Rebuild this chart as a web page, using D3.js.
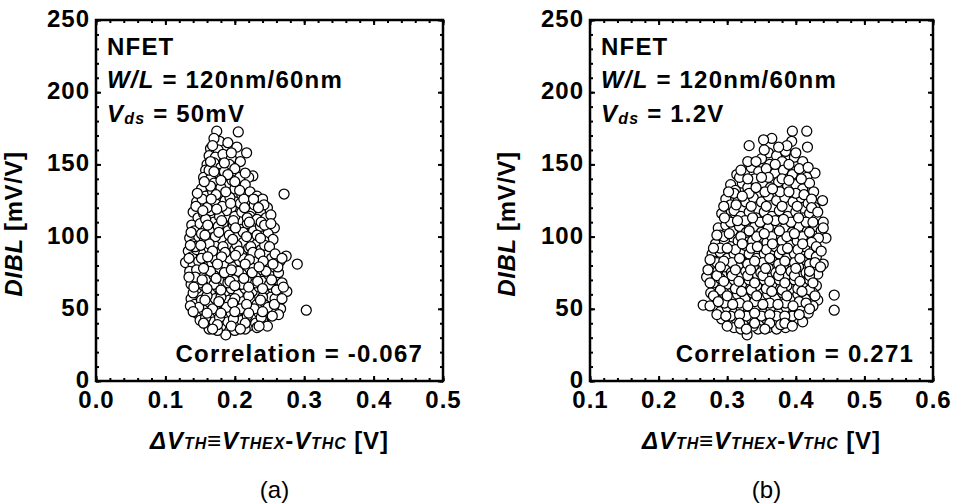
<!DOCTYPE html>
<html>
<head>
<meta charset="utf-8">
<script src="https://cdn.jsdelivr.net/npm/d3@7"></script>
<style>
  body { margin: 0; background: #fff; }
  svg { display: block; font-family: "Liberation Sans", Arial, sans-serif; }
</style>
</head>
<body>
<div id="chart"></div>
<script>
// ---------------------------------------------------------------------------
// data  [dVth (V), DIBL (mV/V)]
// ---------------------------------------------------------------------------
const pointsA = [
  [0.174,173],[0.205,172.5],[0.178,166],[0.17,168],[0.19,165],[0.203,162],[0.165,161],[0.176,160],
  [0.217,158],[0.163,156],[0.172,155],[0.183,157],[0.195,154],[0.208,152],
  [0.16,150],[0.17,151],[0.18,148],[0.192,150],[0.2,147],[0.158,146],[0.175,144],
  [0.226,142],[0.22,141],[0.155,141],[0.165,140],[0.185,142],[0.196,139],[0.207,141],[0.215,136],[0.17,137],[0.16,134],
  [0.152,133],[0.158,128],[0.168,131],[0.18,134],[0.19,130],[0.2,133],[0.21,129],[0.222,131],[0.232,128],[0.176,127],[0.186,125],[0.2,124],
  [0.271,129.5],[0.145,124],[0.15,120],[0.162,122],[0.172,123],[0.195,120],[0.208,123],[0.218,125],[0.228,122],[0.24,126],[0.247,120],[0.237,117],
  [0.14,117],[0.147,113],[0.155,116],[0.165,118],[0.178,115],[0.188,118],[0.2,114],[0.21,117],[0.222,114],[0.232,112],[0.245,113],[0.252,115],[0.17,110],[0.183,109],
  [0.138,108],[0.142,104],[0.15,109],[0.158,105],[0.168,103],[0.176,107],[0.19,104],[0.198,108],[0.208,105],[0.218,109],[0.227,104],[0.237,107],[0.257,106],[0.248,102],[0.255,98],
  [0.135,99],[0.14,95],[0.148,100],[0.156,97],[0.165,99],[0.172,94],[0.182,98],[0.192,95],[0.203,100],[0.212,96],[0.222,99],[0.232,95],[0.242,97],[0.238,91],
  [0.133,90],[0.138,86],[0.145,91],[0.155,88],[0.163,92],[0.172,87],[0.18,90],[0.19,86],[0.2,91],[0.21,88],[0.22,92],[0.228,86],[0.245,88],[0.253,85],
  [0.129,82],[0.29,81],[0.274,86.5],[0.265,83],[0.14,80],[0.148,83],[0.157,79],[0.167,82],[0.177,78],[0.187,81],[0.197,79],[0.207,83],[0.217,78],[0.227,80],[0.237,77],[0.247,80],[0.258,78],[0.135,76],
  [0.14,72],[0.15,74],[0.16,70],[0.17,73],[0.18,69],[0.19,72],[0.2,70],[0.21,74],[0.22,70],[0.23,72],[0.24,69],[0.25,73],[0.26,70],[0.263,75],[0.137,67],
  [0.145,64],[0.155,66],[0.165,62],[0.175,65],[0.185,61],[0.195,64],[0.205,60],[0.215,64],[0.225,62],[0.235,65],[0.245,61],[0.255,64],[0.267,60],[0.275,62],
  [0.137,57],[0.142,53],[0.152,56],[0.162,53],[0.172,57],[0.182,54],[0.192,56],[0.202,52],[0.212,55],[0.222,57],[0.232,53],[0.242,55],[0.252,58],[0.262,54],[0.266,50],
  [0.303,49],[0.145,47],[0.155,49],[0.165,45],[0.175,48],[0.185,44],[0.195,47],[0.205,45],[0.215,48],[0.225,44],[0.235,47],[0.245,45],[0.257,48],[0.263,46],
  [0.15,42],[0.16,39],[0.17,41],[0.18,38],[0.19,41],[0.2,39],[0.21,42],[0.22,38],[0.23,40],[0.24,42],[0.247,38],
  [0.187,32],[0.163,36],[0.175,35],[0.2,35],[0.215,36],[0.232,37],
  [0.153,126],[0.173,129],[0.193,127],[0.213,126],[0.158,112],[0.178,114],[0.198,111],[0.218,113],[0.238,110],
  [0.152,102],[0.172,100],[0.192,101],[0.212,103],[0.232,101],[0.143,93],[0.163,95],[0.183,93],[0.203,94],[0.223,93],[0.243,94],
  [0.152,85],[0.172,84],[0.192,85],[0.212,85],[0.232,84],[0.145,77],[0.165,76],[0.185,75],[0.205,76],[0.225,75],[0.245,76],
  [0.15,68],[0.17,67],[0.19,68],[0.21,67],[0.23,68],[0.25,67],[0.14,61],[0.16,59],[0.18,58],[0.2,57],[0.22,59],[0.24,58],[0.258,57],
  [0.148,51],[0.168,50],[0.188,51],[0.208,50],[0.228,50],[0.248,51],[0.158,44],[0.178,44],[0.198,43],[0.218,45],[0.238,44],
  [0.16,120],[0.182,121],[0.163,146],[0.185,145],[0.165,152],
  [0.146,130],[0.166,126],[0.187,131],[0.207,132],[0.227,126],[0.242,122],
  [0.144,121],[0.154,118],[0.174,119],[0.194,123],[0.214,120],[0.234,120],
  [0.161,108],[0.181,111],[0.201,106],[0.221,110],[0.243,108],[0.252,109],
  [0.137,103],[0.157,101],[0.177,103],[0.197,98],[0.217,100],[0.237,99],[0.25,93],
  [0.136,94],[0.151,94],[0.168,90],[0.186,89],[0.206,90],[0.226,89],[0.236,88],[0.258,88],
  [0.134,85],[0.161,86],[0.181,86],[0.201,87],[0.221,84],[0.241,83],[0.262,79],[0.268,85],
  [0.143,72],[0.155,78],[0.175,81],[0.195,77],[0.215,81],[0.235,79],[0.255,81],
  [0.134,72],[0.153,70],[0.173,71],[0.193,69],[0.213,71],[0.233,69],[0.253,70],[0.268,68],
  [0.141,65],[0.16,64],[0.18,63],[0.2,66],[0.22,65],[0.24,64],[0.26,63],[0.27,65],
  [0.136,52],[0.157,56],[0.177,55],[0.197,54],[0.217,53],[0.237,56],[0.257,53],[0.268,57],
  [0.14,48],[0.16,47],[0.18,47],[0.2,48],[0.22,47],[0.24,48],[0.254,45],
  [0.155,40],[0.175,39],[0.195,38],[0.215,40],[0.235,38],[0.168,36],[0.208,36],
  [0.17,145],[0.19,143],[0.2,138],[0.18,139],[0.165,135],[0.215,144],[0.156,138],[0.195,158],[0.185,151],[0.168,163]
];

const pointsB = [
  [0.365,168],[0.353,167],[0.395,173],[0.416,173],[0.394,166],[0.417,162],[0.332,163],
  [0.36,158],[0.372,156],[0.385,159],[0.398,155],[0.41,152],[0.38,152],[0.35,154],[0.362,150],
  [0.325,144],[0.314,143],[0.428,144],[0.335,148],[0.346,145],[0.357,147],[0.37,144],[0.382,146],[0.395,143],[0.405,147],[0.416,141],[0.34,140],
  [0.305,136],[0.312,132],[0.322,137],[0.33,134],[0.352,137],[0.363,134],[0.375,138],[0.388,135],[0.4,136],[0.41,133],[0.42,137],[0.426,131],[0.345,130],
  [0.298,126],[0.305,122],[0.316,127],[0.327,124],[0.338,127],[0.35,124],[0.36,128],[0.372,125],[0.384,127],[0.396,124],[0.408,127],[0.418,123],[0.439,125],[0.428,120],
  [0.292,116],[0.3,112],[0.31,118],[0.32,114],[0.332,117],[0.342,113],[0.354,117],[0.365,114],[0.376,118],[0.388,114],[0.4,117],[0.41,113],[0.42,116],[0.43,112],
  [0.287,106],[0.29,101],[0.298,108],[0.308,104],[0.318,107],[0.328,103],[0.34,107],[0.35,103],[0.36,106],[0.372,102],[0.384,106],[0.395,103],[0.405,107],[0.417,104],[0.428,107],[0.437,104],[0.444,99],[0.433,99],
  [0.283,95],[0.296,97],[0.305,93],[0.316,97],[0.326,94],[0.337,97],[0.347,93],[0.358,96],[0.37,93],[0.38,97],[0.392,94],[0.402,97],[0.413,93],[0.423,96],
  [0.278,88],[0.28,83],[0.29,89],[0.3,85],[0.31,88],[0.32,84],[0.332,88],[0.343,85],[0.354,88],[0.365,84],[0.376,88],[0.387,85],[0.398,88],[0.41,84],[0.42,88],[0.43,86],
  [0.44,81],[0.276,78],[0.286,76],[0.296,79],[0.306,75],[0.316,79],[0.327,76],[0.338,79],[0.349,75],[0.36,78],[0.371,75],[0.382,79],[0.393,76],[0.404,79],[0.415,75],[0.426,78],[0.432,74],
  [0.27,72],[0.28,68],[0.29,71],[0.3,67],[0.31,70],[0.321,67],[0.332,70],[0.343,66],[0.354,70],[0.365,67],[0.376,70],[0.387,66],[0.398,70],[0.41,67],[0.42,70],[0.43,66],
  [0.456,59.5],[0.276,61],[0.285,58],[0.295,61],[0.305,57],[0.315,60],[0.326,57],[0.337,61],[0.348,57],[0.359,60],[0.37,57],[0.381,61],[0.392,57],[0.403,60],[0.414,57],[0.425,61],[0.432,56],
  [0.456,49],[0.265,52.6],[0.282,52],[0.29,48],[0.3,51],[0.31,47],[0.32,51],[0.331,48],[0.342,51],[0.353,47],[0.364,50],[0.375,47],[0.386,51],[0.397,48],[0.408,51],[0.418,47],[0.425,52],
  [0.292,43],[0.303,40],[0.313,43],[0.323,40],[0.335,43],[0.346,40],[0.357,43],[0.368,40],[0.379,43],[0.39,40],[0.4,43],[0.41,41],
  [0.329,32],[0.31,37],[0.32,36],[0.345,36],[0.36,37],[0.372,36],[0.385,37],
  [0.33,152],[0.39,150],[0.318,141],[0.36,141],[0.38,140],[0.31,130],[0.332,130],[0.355,131],[0.377,131],[0.4,130],
  [0.305,110],[0.326,111],[0.348,110],[0.37,111],[0.393,110],[0.415,110],[0.295,100],[0.32,100],[0.343,100],[0.365,100],[0.387,100],[0.41,100],
  [0.29,92],[0.312,91],[0.335,92],[0.357,91],[0.38,91],[0.403,91],[0.285,82],[0.307,82],[0.33,81],[0.352,82],[0.375,81],[0.398,82],[0.42,81],
  [0.285,73],[0.307,73],[0.33,73],[0.352,73],[0.375,73],[0.398,73],[0.42,73],[0.29,63],[0.312,64],[0.335,63],[0.357,64],[0.38,63],[0.403,64],[0.42,63],
  [0.296,54],[0.318,54],[0.34,55],[0.362,54],[0.385,54],[0.405,55],[0.305,45],[0.328,45],[0.35,45],[0.372,45],[0.395,45],[0.338,38],[0.378,39],
  [0.342,152],[0.37,150],[0.354,160],[0.387,163],[0.4,158],[0.375,162],
  [0.33,140],[0.35,141],[0.39,139],[0.408,140],[0.32,146],[0.418,148],
  [0.302,131],[0.322,128],[0.342,134],[0.366,133],[0.39,131],[0.412,129],[0.423,126],
  [0.295,121],[0.313,122],[0.335,121],[0.357,121],[0.38,121],[0.402,121],[0.423,120],[0.432,117],
  [0.296,113],[0.315,111],[0.337,113],[0.359,112],[0.382,112],[0.404,113],[0.425,110],[0.44,110],
  [0.285,101],[0.303,102],[0.332,104],[0.354,102],[0.376,104],[0.398,102],[0.42,103],[0.44,106],
  [0.28,92],[0.3,92],[0.322,95],[0.344,93],[0.366,95],[0.388,92],[0.41,95],[0.43,93],[0.437,90],
  [0.275,84],[0.295,83],[0.318,85],[0.34,83],[0.362,85],[0.384,83],[0.406,85],[0.428,82],
  [0.272,77],[0.29,79],[0.312,77],[0.334,77],[0.356,78],[0.378,77],[0.4,78],[0.42,76],[0.436,79],
  [0.275,68],[0.295,69],[0.317,69],[0.34,68],[0.362,69],[0.384,68],[0.406,69],[0.425,68],
  [0.28,59],[0.3,59],[0.321,62],[0.343,59],[0.365,62],[0.387,59],[0.409,62],[0.428,59],
  [0.275,52],[0.287,55],[0.308,53],[0.33,52],[0.352,53],[0.374,53],[0.396,52],[0.415,54],
  [0.285,46],[0.298,45],[0.318,46],[0.34,47],[0.362,46],[0.384,45],[0.405,46],[0.42,50],
  [0.3,38],[0.318,40],[0.34,40],[0.362,40],[0.384,40],[0.355,36],[0.395,38],[0.328,36]
];

// axis ticks
const yTicks = [0, 50, 100, 150, 200, 250];
const xTicksA = [0.0, 0.1, 0.2, 0.3, 0.4, 0.5];
const xTicksB = [0.1, 0.2, 0.3, 0.4, 0.5, 0.6];

const W = 953, H = 504;
const svg = d3.select("#chart").append("svg").attr("width", W).attr("height", H);

//------------------------------------------------------------------------------
function drawPanel(p) {
  const pw = p.w, ph = 361;
  const g = svg.append("g").attr("transform", "translate(" + p.left + ",20)");

  const x = d3.scaleLinear().domain(p.xDomain).range([0, pw]);
  const y = d3.scaleLinear().domain([0, 250]).range([ph, 0]);

  const xMinor = d3.range(p.xDomain[0], p.xDomain[1] + 1e-9, 0.02);
  const yMinor = d3.range(0, 251, 10);

  // inward ticks on all four sides
  const tickStyle = function(sel) {
    sel.select(".domain").remove();
    sel.selectAll("line").attr("stroke", "#000").attr("stroke-width", 2);
    sel.selectAll("text")
      .attr("fill", "#000")
      .style("font-size", "24px")
      .style("font-weight", "bold")
      .style("letter-spacing", "1px");
  };

  g.append("g").attr("transform", "translate(0," + ph + ")")
    .call(d3.axisBottom(x).tickValues(xMinor).tickSize(-3).tickFormat(""))
    .call(tickStyle);
  g.append("g").attr("transform", "translate(0," + ph + ")")
    .call(d3.axisBottom(x).tickValues(p.xTicks).tickSize(-5).tickPadding(10).tickFormat(d3.format(".1f")))
    .call(tickStyle);
  g.append("g")
    .call(d3.axisTop(x).tickValues(xMinor).tickSize(-3).tickFormat(""))
    .call(tickStyle);
  g.append("g")
    .call(d3.axisTop(x).tickValues(p.xTicks).tickSize(-5).tickFormat(""))
    .call(tickStyle);

  g.append("g")
    .call(d3.axisLeft(y).tickValues(yMinor).tickSize(-3).tickFormat(""))
    .call(tickStyle);
  g.append("g")
    .call(d3.axisLeft(y).tickValues(yTicks).tickSize(-5).tickPadding(6).tickFormat(d3.format("d")))
    .call(tickStyle)
    .selectAll("text").attr("dy", "0.27em");
  g.append("g").attr("transform", "translate(" + pw + ",0)")
    .call(d3.axisRight(y).tickValues(yMinor).tickSize(-3).tickFormat(""))
    .call(tickStyle);
  g.append("g").attr("transform", "translate(" + pw + ",0)")
    .call(d3.axisRight(y).tickValues(yTicks).tickSize(-5).tickFormat(""))
    .call(tickStyle);

  // frame
  g.append("rect")
    .attr("width", pw).attr("height", ph)
    .attr("fill", "none").attr("stroke", "#000").attr("stroke-width", 2.5);

  // points
  g.selectAll("circle.pt")
    .data(p.points)
    .enter()
    .append("circle")
      .attr("class", "pt")
      .attr("cx", function(d) { return x(d[0]); })
      .attr("cy", function(d) { return y(d[1]); })
      .attr("r", 5)
      .attr("fill", "#fff")
      .attr("stroke", "#000")
      .attr("stroke-width", 1.25);

  // annotations
  const big = function(sel) {
    sel.style("font-size", "24px").style("font-weight", "bold").style("letter-spacing", "1.2px");
  };

  g.append("text").attr("x", 11).attr("y", 35).call(big).text("NFET");

  const wl = g.append("text").attr("x", 11).attr("y", 68).call(big);
  wl.append("tspan").style("font-style", "italic").text("W/L");
  wl.append("tspan").text(" = 120nm/60nm");

  const vd = g.append("text").attr("x", 11).attr("y", 102).call(big);
  vd.append("tspan").style("font-style", "italic").text("V");
  vd.append("tspan").style("font-style", "italic").style("font-size", "16px").attr("dy", 2).text("ds");
  vd.append("tspan").attr("dy", -2).text(" = " + p.vds);

  g.append("text")
    .attr("x", pw - p.corrRight).attr("y", 342)
    .attr("text-anchor", "end")
    .call(big)
    .text("Correlation = " + p.corr);

  // y label
  const yl = g.append("text")
    .attr("transform", "translate(" + p.yLabelX + "," + 204 + ")rotate(-90)")
    .attr("text-anchor", "middle")
    .style("font-size", "24px").style("font-weight", "bold").style("letter-spacing", "0.6px");
  yl.append("tspan").style("font-style", "italic").text("DIBL");
  yl.append("tspan").text(" [mV/V]");

  // x label
  const xl = g.append("text")
    .attr("x", pw / 2).attr("y", 429)
    .attr("text-anchor", "middle")
    .style("font-size", "24px").style("font-weight", "bold").style("letter-spacing", "0.9px");
  const sub = "16px";
  xl.append("tspan").style("font-style", "italic").text("\u0394V");
  xl.append("tspan").style("font-style", "italic").style("font-size", sub).text("TH");
  xl.append("tspan").text("\u2261");
  xl.append("tspan").style("font-style", "italic").text("V");
  xl.append("tspan").style("font-style", "italic").style("font-size", sub).text("THEX");
  xl.append("tspan").text("-");
  xl.append("tspan").style("font-style", "italic").text("V");
  xl.append("tspan").style("font-style", "italic").style("font-size", sub).text("THC");
  xl.append("tspan").text(" [V]");

  // panel caption
  g.append("text")
    .attr("x", pw / 2 + 5).attr("y", 478)
    .attr("text-anchor", "middle")
    .style("font-size", "24px")
    .text(p.caption);
}

drawPanel({
  left: 96, w: 347, xDomain: [0, 0.5], xTicks: xTicksA, points: pointsA,
  vds: "50mV", corr: "-0.067", corrRight: 20, yLabelX: -74, caption: "(a)"
});

drawPanel({
  left: 590, w: 343, xDomain: [0.1, 0.6], xTicks: xTicksB, points: pointsB,
  vds: "1.2V", corr: "0.271", corrRight: 19, yLabelX: -75, caption: "(b)"
});
</script>
</body>
</html>
